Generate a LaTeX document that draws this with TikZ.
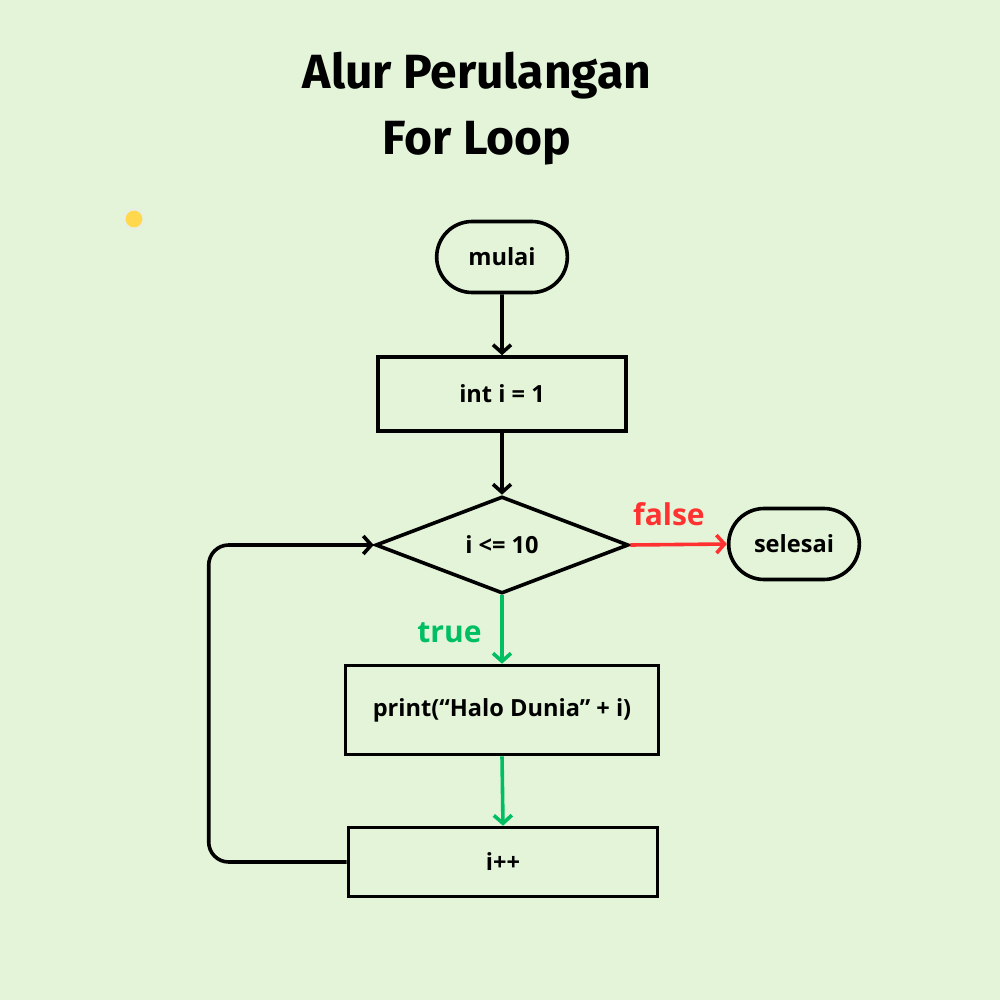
\documentclass[tikz,border=0pt]{standalone}
\usepackage{fontspec}
\setmainfont{Open Sans}
\newfontfamily\titlefont{Fira Sans}
\usepackage{xcolor}
\usetikzlibrary{arrows.meta,positioning,shapes.geometric,shapes.misc}
\definecolor{bgleaf}{HTML}{E3F4D9}
\definecolor{truegreen}{HTML}{00BF63}
\definecolor{falsered}{HTML}{FF3131}
\definecolor{dotyellow}{HTML}{FFD84D}

\begin{document}
\begin{tikzpicture}[x=0.5pt, y=-0.5pt,
  term/.style={rounded rectangle, draw, line width=1.8pt, minimum width=72pt,
    minimum height=35.5pt, font=\bfseries\fontsize{11.8}{14}\selectfont},
  proc/.style={rectangle, draw, line width=1.8pt, align=center,
    font=\bfseries\fontsize{11.8}{14}\selectfont},
  decide/.style={diamond, draw, line width=1.8pt, minimum width=126.5pt,
    minimum height=48.5pt, inner sep=0pt, font=\bfseries\fontsize{11.8}{14}\selectfont},
  flow/.style={->, line width=1.8pt},
  branch/.style={font=\bfseries\fontsize{15}{18}\selectfont},
  title/.style={font=\titlefont\bfseries\fontsize{24}{29}\selectfont, anchor=base},
  >={Straight Barb[length=4pt,width=9pt]}
]
  % canvas
  \fill[bgleaf] (0,0) rectangle (1000,1000);
  \useasboundingbox (0,0) rectangle (1000,1000);

  % heading
  \node[title] (head1) at (477,89) {Alur Perulangan};
  \node[title] (head2) at (477,155) {For Loop};

  % small yellow dot
  \draw[bgleaf!80!black!30, line width=0.6pt] (134,219) circle (5pt);
  \fill[dotyellow] (134,219) circle (4.2pt);

  % flow: mulai, init, test, body, step
  \node[term] (start) at (502,257) {mulai};
  \node[proc, minimum width=124pt, minimum height=37pt] (init) at (502,394) {int i = 1};
  \node[decide] (test) at (502,545) {i <= 10};
  \node[term] (stop) at (794,544) {selesai};
  \node[proc, minimum width=156.5pt, minimum height=44.5pt] (body) at (502,710)
    {print(“Halo Dunia” + i)};
  \node[proc, minimum width=154.5pt, minimum height=34.5pt] (incr) at (503,862) {i++};

  % arrows
  \draw[flow] (start) -- (init);
  \draw[flow] (init) -- (test);
  \draw[flow, falsered] (test.east) -- node[branch, above=5pt, pos=0.4] {false} (stop.west);
  \draw[flow, truegreen] (test.south) -- node[branch, left=6pt, pos=0.55] {true} (body.north);
  \draw[flow, truegreen] (body.south) -- (incr.north);
  % loop back to the test
  \draw[flow, rounded corners=10pt] (incr.west) -- ++(-138,0) |- (test.west);
\end{tikzpicture}
\end{document}
